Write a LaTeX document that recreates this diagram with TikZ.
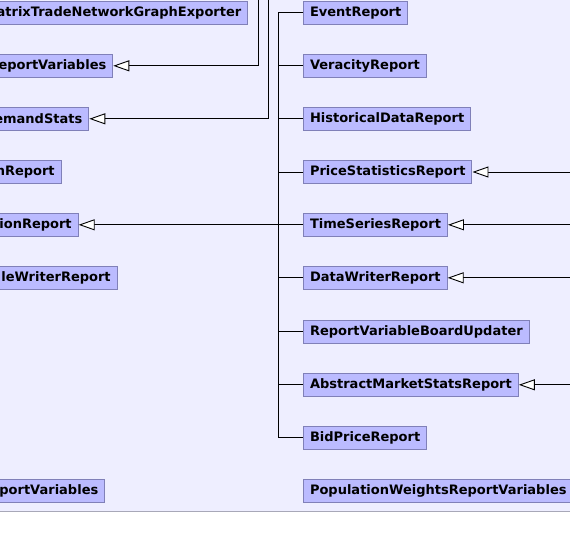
\documentclass[tikz,border=0pt]{standalone}
\usepackage{fontspec}
\setmainfont{DejaVu Sans}
\usetikzlibrary{arrows.meta,positioning}

\definecolor{panelbg}{HTML}{EEEEFF}
\definecolor{clsfill}{HTML}{BBBBFF}
\definecolor{clsline}{HTML}{8080B8}
\definecolor{sepline}{HTML}{A8A8B8}

\begin{document}
\begin{tikzpicture}[x=1pt,y=-1pt,
    cls/.style={draw=clsline, fill=clsfill, line width=1pt, inner xsep=6.5pt, inner ysep=0pt,
        minimum height=23pt, font=\fontsize{13}{15}\selectfont\bfseries},
    link/.style={line width=0.9pt},
    gen/.style={link, -{Triangle[length=16pt,width=11pt,fill=white,line width=0.9pt]}}]
    \useasboundingbox (0,0) rectangle (570,549);
    \fill[panelbg] (0,0) rectangle (570,511);
    \draw[sepline] (0,511.3) -- (570,511.3);
    \clip (0,0) rectangle (570,549);

    % Right column
    \node[cls, anchor=west] (evt) at (303,12.7) {EventReport};
    \node[cls, anchor=west] (veracity) at (303,65.8) {VeracityReport};
    \node[cls, anchor=west] (histdata) at (303,118.8) {HistoricalDataReport};
    \node[cls, anchor=west] (pricestats) at (303,172) {PriceStatisticsReport};
    \node[cls, anchor=west] (timeseries) at (303,224.8) {TimeSeriesReport};
    \node[cls, anchor=west] (datawriter) at (303,277.8) {DataWriterReport};
    \node[cls, anchor=west] (boardupdater) at (303,331.5) {ReportVariableBoardUpdater};
    \node[cls, anchor=west] (abstractstats) at (303,384.8) {AbstractMarketStatsReport};
    \node[cls, anchor=west] (bidprice) at (303,437.8) {BidPriceReport};
    \node[cls, anchor=west] (popweights) at (303,491) {PopulationWeightsReportVariables};

    % Left column (cut off at the edge)
    \node[cls, anchor=east] (graphexporter) at (248.3,12.7) {atrixTradeNetworkGraphExporter};
    \node[cls, anchor=east] (reportvars) at (113.3,65.8) {eportVariables};
    \node[cls, anchor=east] (demandstats) at (89.3,118.8) {emandStats};
    \node[cls, anchor=east] (nreport) at (61.7,172) {nReport};
    \node[cls, anchor=east] (ionreport) at (78.7,224.8) {ionReport};
    \node[cls, anchor=east] (writerreport) at (117.7,277.8) {leWriterReport};
    \node[cls, anchor=east] (portvars) at (105.3,491) {portVariables};

    % Free ends outside the view
    \coordinate (upA) at (258.3,-5);
    \coordinate (upB) at (268.3,-5);
    \coordinate (rim) at (580,0);
    \coordinate (trunk) at (278.3,12.7);

    % Inheritance trunk
    \draw[link] (evt.west) -- (trunk) |- (bidprice.west);
    \foreach \n in {veracity,histdata,pricestats,timeseries,datawriter,boardupdater,abstractstats}
        \draw[link] (trunk |- \n.west) -- (\n.west);

    % Generalisations
    \draw[gen] (upA) |- (reportvars.east);
    \draw[gen] (upB) |- (demandstats.east);
    \draw[gen] (timeseries.west) -- (ionreport.east);
    \foreach \n in {pricestats,timeseries,datawriter,abstractstats}
        \draw[gen] (\n.east -| rim) -- (\n.east);
\end{tikzpicture}
\end{document}
